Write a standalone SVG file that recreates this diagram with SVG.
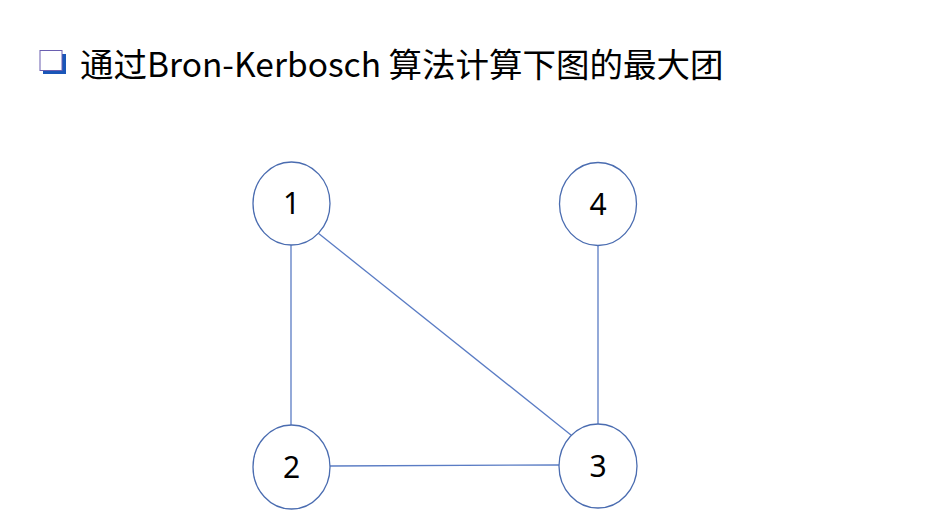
<svg xmlns="http://www.w3.org/2000/svg" width="949" height="528" viewBox="0 0 949 528">
<style>
.node ellipse{fill:#fff;stroke:#4a6cb0;stroke-width:1.3}
.node text{font-family:"Noto Sans","Liberation Sans",sans-serif;font-size:30px;fill:#000;text-anchor:middle}
.edges line{stroke:#5a7cc4;stroke-width:1.3}
.title{font-family:"Noto Sans CJK SC","Noto Sans",sans-serif;font-size:33.5px;fill:#000}
</style>
<rect width="949" height="528" fill="#fff"/>
<g id="bullet">
<rect x="43" y="54" width="23" height="20" fill="#1a56b8"/>
<rect x="40" y="50.5" width="22" height="20" fill="#fff" stroke="#6a5fb0" stroke-width="1"/>
</g>
<text class="title" x="80" y="77">通过Bron-Kerbosch 算法计算下图的最大团</text>
<g class="edges" id="edges">
<line x1="291" y1="245" x2="291" y2="425"/>
<line x1="318" y1="233" x2="571" y2="435"/>
<line x1="598" y1="246" x2="598" y2="424"/>
<line x1="330" y1="466" x2="559" y2="465"/>
</g>
<g class="node" id="n1"><ellipse cx="291.5" cy="203.5" rx="38.5" ry="41.5"/><text x="291.5" y="214">1</text></g>
<g class="node" id="n4"><ellipse cx="598" cy="204" rx="38.5" ry="41.5"/><text x="598" y="214.5">4</text></g>
<g class="node" id="n2"><ellipse cx="291.5" cy="467" rx="38.5" ry="42"/><text x="291.5" y="477.5">2</text></g>
<g class="node" id="n3"><ellipse cx="598" cy="466" rx="39" ry="42"/><text x="598" y="476.5">3</text></g>
</svg>
